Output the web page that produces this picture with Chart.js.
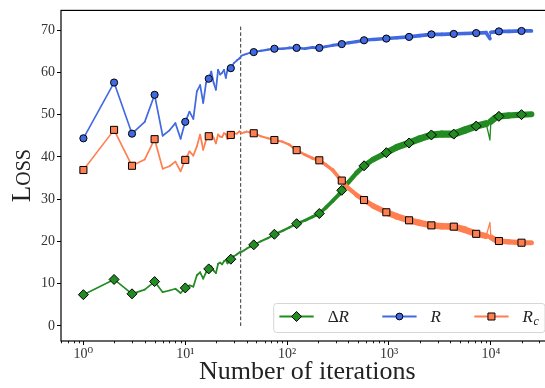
<!DOCTYPE html>
<html><head><meta charset="utf-8">
<script src="https://cdn.jsdelivr.net/npm/chart.js@4/dist/chart.umd.min.js"></script>
<style>
html,body{margin:0;padding:0;background:#fff;overflow:hidden;width:545px;height:388px;}
#wrap{position:relative;width:560px;height:388px;}
canvas{display:block;}
</style></head><body>
<div id="wrap"><canvas id="c" width="560" height="388"></canvas></div>
<script>
// ---------------- data ----------------
const iterations = [1,2,3,4,5,6,7,8,9,10,11,12,13,14,15,16,17,18,19,20,21,22,23,24,25,26,27,28,
  30,32,34,36,38,40,43,47,
  55,65,75,90,105,124,150,177,207,240,280,325,344,
  400,480,569,700,942,1200,1575,2000,2608,3300,4325,5500,7180,9000,9800,10000,11000,12000,15000,20000,25000];

const R = [44.4,57.6,45.5,48.3,54.7,45.0,46.3,48.0,44.3,48.3,
  50.7,49.0,55.5,57.0,52.8,57.5,58.5,60.2,57.5,55.9,
  60.6,59.5,59.9,60.6,58.7,60.7,61.0,61.0,
  62.2,62.8,63.3,64.0,64.2,64.4,64.6,64.8,
  65.1,65.4,65.6,65.6,65.8,65.8,65.6,65.9,65.8,66.1,66.4,66.6,66.7,
  67.0,67.3,67.6,67.8,68.0,68.2,68.4,68.7,69.0,69.0,69.1,69.2,69.3,69.4,68.0,69.5,69.6,69.7,69.7,69.8,69.8];

const Rc = [36.9,46.4,37.9,39.4,44.2,37.2,37.8,38.9,36.6,39.3,
  41.3,40.3,42.5,45.3,41.7,44.0,44.9,45.6,44.5,43.2,
  45.3,44.8,44.7,45.6,45.4,44.2,45.2,45.2,
  45.5,45.5,46.0,45.6,45.8,46.0,45.8,45.6,
  44.9,44.4,44.0,43.6,42.9,41.6,40.5,39.7,39.2,38.1,36.9,35.0,34.4,
  32.6,31.0,29.8,28.4,26.9,25.9,25.0,24.4,23.8,23.6,23.5,22.8,21.8,21.3,24.5,21.0,20.4,20.1,19.9,19.7,19.7];

const deltaR = [7.4,11.0,7.6,8.6,10.5,8.0,8.4,8.8,7.8,9.0,
  9.6,9.3,12.0,12.7,11.2,12.7,13.5,14.1,13.1,12.5,
  14.7,15.0,14.6,15.3,15.6,14.8,15.6,15.8,
  16.5,16.9,17.4,17.6,17.9,18.3,18.7,19.2,
  20.0,20.8,21.7,22.5,23.3,24.2,25.0,25.8,26.6,28.0,29.6,31.2,32.1,
  34.0,36.2,37.9,39.4,41.0,42.3,43.3,44.3,45.2,45.4,45.4,46.3,47.3,47.9,44.0,48.4,49.2,49.6,49.8,50.0,50.1];

const markerIterations = [1,2,3,5,10,17,28,47,75,124,207,344,569,942,1575,2608,4325,7180,12000,20000];

const switchIteration = [35, 35];
const switchLoss = [0, 71.1];

const xTickValues = [1,10,100,1000,10000];
const xTickLabels = ['10\u2070','10\u00B9','10\u00B2','10\u00B3','10\u2074'];
const yTickValues = [0,10,20,30,40,50,60,70];
const yTickLabels = ['0','10','20','30','40','50','60','70'];
const xLimits = [0.6026, 41500];
const yLimits = [-3.56, 74.67];

// ---------------- styles ----------------
const SERIF = "'Liberation Serif', 'DejaVu Serif', serif";
const COL = {dR:'#228B22', R:'#4169E1', Rc:'#FF7F50'};
const markerSet = new Set(markerIterations);
const widthProfiles = {
  dR: [[0,1.6],[1.55,1.8],[2,2.4],[2.5,4.0],[2.8,5.5],[3,6.5],[3.7,7.4],[4.1,6.3],[4.5,5.8]],
  R:  [[0,1.6],[1.55,1.8],[2,2.6],[2.6,3.2],[3,3.6],[4.5,3.8]],
  Rc: [[0,1.6],[1.55,1.8],[2,2.4],[2.5,3.8],[2.8,5.3],[3,6.4],[3.7,6.8],[4.1,5.3],[4.5,4.8]]
};
function bandWidth(kind, x){
  const p = widthProfiles[kind], l = Math.log10(x);
  if (l <= p[0][0]) return p[0][1];
  for (let i=1;i<p.length;i++){
    if (l <= p[i][0]){
      const t=(l-p[i-1][0])/(p[i][0]-p[i-1][0]);
      return p[i-1][1]+t*(p[i][1]-p[i-1][1]);
    }
  }
  return p[p.length-1][1];
}
function segWidth(kind, ctx){
  const x0 = iterations[ctx.p0DataIndex];
  // isolated spikes inside the noisy band are single thin strokes
  if (x0 >= 1000 && Math.abs(ctx.p1.y - ctx.p0.y) > 6) return 1.3;
  return bandWidth(kind, x0);
}
function makeSet(label, values, kind, style, radius, order){
  const color = COL[kind];
  return {
    label, order,
    data: iterations.map((x,i)=>({x, y: values[i]})),
    borderColor: color, backgroundColor: color, borderWidth: 1.6,
    borderCapStyle:'round', borderJoinStyle:'round', tension:0,
    pointStyle: style,
    pointRadius: ctx => markerSet.has(iterations[ctx.dataIndex]) ? radius : 0,
    pointHoverRadius: ctx => markerSet.has(iterations[ctx.dataIndex]) ? radius : 0,
    pointBackgroundColor: color, pointBorderColor:'#000', pointBorderWidth:1,
    segment: { borderWidth: ctx => segWidth(kind, ctx),
               borderCapStyle: ctx => (iterations[ctx.p0DataIndex] >= 1000 && Math.abs(ctx.p1.y - ctx.p0.y) > 6) ? 'butt' : 'round' }
  };
}

const decor = {
  id:'decor',
  afterDraw(chart){
    const {ctx, chartArea:a, scales:{x}} = chart;
    ctx.save();
    // frame
    ctx.strokeStyle='#000'; ctx.lineWidth=1.2;
    ctx.strokeRect(a.left, a.top, a.right-a.left, a.bottom-a.top);
    // minor log ticks
    ctx.lineWidth=0.9;
    for (let k=-1;k<=4;k++){
      for (let m=2;m<=9;m++){
        const v = m*Math.pow(10,k);
        if (v < xLimits[0]*0.99 || v > xLimits[1]) continue;
        const px = Math.round(x.getPixelForValue(v))+0.5;
        ctx.beginPath(); ctx.moveTo(px, a.bottom); ctx.lineTo(px, a.bottom+2.3); ctx.stroke();
      }
    }
    // y title "Loss" in small caps
    ctx.fillStyle='#222';
    ctx.translate(30, (a.top+a.bottom)/2);
    ctx.rotate(-Math.PI/2);
    ctx.textBaseline='alphabetic';
    const f1 = "27px "+SERIF, f2 = "20px "+SERIF;
    ctx.font=f1; const w1=ctx.measureText('L').width;
    ctx.font=f2; const w2=ctx.measureText('OSS').width;
    let sx = -(w1+w2)/2;
    ctx.font=f1; ctx.fillText('L', sx, 0);
    ctx.font=f2; ctx.fillText('OSS', sx+w1, 0);
    ctx.setTransform(1,0,0,1,0,0);
    // legend
    const entries = [
      {kind:'dR', style:'diamond', main:'\u0394', it:'R', sub:''},
      {kind:'R', style:'circle', main:'', it:'R', sub:''},
      {kind:'Rc', style:'square', main:'', it:'R', sub:'c'}
    ];
    const fMain = "17px "+SERIF, fIt = "italic 17px "+SERIF, fSub = "italic 12px "+SERIF;
    entries.forEach(e=>{
      ctx.font=fMain; const wm = e.main ? ctx.measureText(e.main).width : 0;
      ctx.font=fIt; const wi = ctx.measureText(e.it).width;
      ctx.font=fSub; const ws = e.sub ? ctx.measureText(e.sub).width+1 : 0;
      e.wm=wm; e.wi=wi; e.w = wm+wi+ws;
    });
    const pad=5.7, sample=34.3, gap=14, col=33.3;
    const W = pad*2 + entries.reduce((s,e)=>s+sample+gap+e.w,0) + col*(entries.length-1);
    const H = 29;
    const right = a.right - 8.8, bottom = a.bottom - 8.5;
    const left = right - W, top = bottom - H;
    const r=3;
    ctx.beginPath();
    ctx.moveTo(left+r, top); ctx.lineTo(right-r, top); ctx.quadraticCurveTo(right, top, right, top+r);
    ctx.lineTo(right, bottom-r); ctx.quadraticCurveTo(right, bottom, right-r, bottom);
    ctx.lineTo(left+r, bottom); ctx.quadraticCurveTo(left, bottom, left, bottom-r);
    ctx.lineTo(left, top+r); ctx.quadraticCurveTo(left, top, left+r, top); ctx.closePath();
    ctx.fillStyle='rgba(255,255,255,0.8)'; ctx.fill();
    ctx.strokeStyle='#d6d6d6'; ctx.lineWidth=1; ctx.stroke();
    let cx = left + pad;
    const cy = top + H/2 - 1.5;
    entries.forEach(e=>{
      const c = COL[e.kind];
      ctx.strokeStyle=c; ctx.lineWidth=1.8; ctx.lineCap='butt';
      ctx.beginPath(); ctx.moveTo(cx, cy); ctx.lineTo(cx+sample, cy); ctx.stroke();
      const mx = cx+sample/2;
      ctx.fillStyle=c; ctx.strokeStyle='#000'; ctx.lineWidth=1;
      ctx.beginPath();
      if (e.style==='circle'){ ctx.arc(mx, cy, 3.4, 0, Math.PI*2); }
      else if (e.style==='square'){ ctx.rect(mx-3.5, cy-3.5, 7, 7); }
      else { ctx.moveTo(mx, cy-5); ctx.lineTo(mx+5, cy); ctx.lineTo(mx, cy+5); ctx.lineTo(mx-5, cy); ctx.closePath(); }
      ctx.fill(); ctx.stroke();
      let tx = cx + sample + gap;
      ctx.fillStyle='#222'; ctx.textBaseline='middle';
      if (e.main){ ctx.font=fMain; ctx.fillText(e.main, tx, cy+1); tx+=e.wm; }
      ctx.font=fIt; ctx.fillText(e.it, tx, cy+1); tx+=e.wi;
      if (e.sub){ ctx.font=fSub; ctx.fillText(e.sub, tx+0.5, cy+5); }
      cx += sample + gap + e.w + col;
    });
    ctx.restore();
  }
};

new Chart(document.getElementById('c'), {
  type:'line',
  data:{ datasets:[
    makeSet('\u0394R', deltaR, 'dR', 'rectRot', 5, 2),
    makeSet('R', R, 'R', 'circle', 3.6, 1),
    makeSet('Rc', Rc, 'Rc', 'rect', 5, 0),
    { label:'switch', order:3,
      data: switchIteration.map((x,i)=>({x, y: switchLoss[i]})),
      borderColor:'#333', borderWidth:1, borderDash:[3.6,2.2], pointRadius:0, pointHoverRadius:0 }
  ]},
  options:{
    responsive:false, animation:false, devicePixelRatio:1,
    layout:{ padding:{ top:10, right:6.2, left:0, bottom:0 } },
    plugins:{ legend:{display:false}, tooltip:{enabled:false} },
    events:[],
    scales:{
      x:{ type:'logarithmic', min:xLimits[0], max:xLimits[1], bounds:'data',
        afterBuildTicks: s => { s.ticks = xTickValues.map(v=>({value:v})); },
        afterFit: s => { s.height = 47; },
        ticks:{ autoSkip:false, maxRotation:0, minRotation:0, padding:1, color:'#333',
          font:{family:SERIF, size:14},
          callback: v => xTickLabels[xTickValues.indexOf(v)] },
        grid:{ display:true, drawOnChartArea:false, drawTicks:true, tickLength:4, tickColor:'#000', tickWidth:1 },
        border:{ display:false },
        title:{ display:true, text:'Number of iterations', color:'#222', font:{family:SERIF, size:26}, padding:0 }
      },
      y:{ type:'linear', min:yLimits[0], max:yLimits[1],
        afterBuildTicks: s => { s.ticks = yTickValues.map(v=>({value:v})); },
        afterFit: s => { s.width = 61; },
        ticks:{ padding:2, color:'#333', font:{family:SERIF, size:14},
          callback: v => yTickLabels[yTickValues.indexOf(v)] },
        grid:{ display:true, drawOnChartArea:false, drawTicks:true, tickLength:4, tickColor:'#000', tickWidth:1 },
        border:{ display:false }
      }
    }
  },
  plugins:[decor]
});
</script>
</body></html>
